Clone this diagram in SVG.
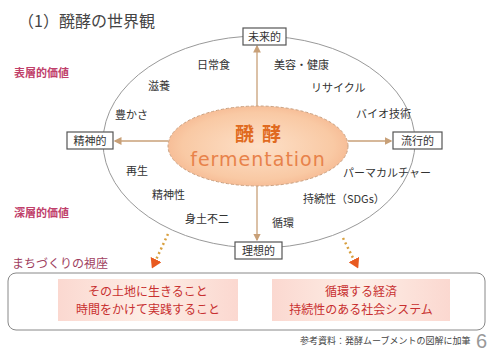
<svg xmlns="http://www.w3.org/2000/svg" width="492" height="358" viewBox="0 0 492 358">
<defs>
<style>
text{font-family:"Noto Sans CJK JP","Liberation Sans",sans-serif;}
.lbl{font-size:11px;fill:#333;}
.box{fill:#fff;stroke:#555;stroke-width:1.2;}
.bt{font-size:11px;fill:#333;text-anchor:middle;}
.pk{font-size:11px;fill:#c0406a;font-weight:bold;}
.con{stroke:#c8a078;stroke-width:1.3;fill:none;}
.dot{stroke:#d8a040;stroke-width:2.5;stroke-dasharray:2 3;fill:none;}
.rt{font-size:12px;fill:#c83030;text-anchor:middle;}
</style>
<radialGradient id="ig" cx="0.5" cy="0.5" r="0.6">
<stop offset="0" stop-color="#fde0c8"/>
<stop offset="0.7" stop-color="#f9c9a4"/>
<stop offset="1" stop-color="#f4b088"/>
</radialGradient>
<linearGradient id="pg" x1="0" y1="0" x2="1" y2="0">
<stop offset="0" stop-color="#fbd8d0"/>
<stop offset="0.5" stop-color="#fdeee6"/>
<stop offset="1" stop-color="#fbd8d0"/>
</linearGradient>
<marker id="ah" markerWidth="6" markerHeight="6" refX="5" refY="3" orient="auto">
<path d="M0,0 L6,3 L0,6 z" fill="#c8a078"/>
</marker>
<marker id="oh" markerUnits="userSpaceOnUse" markerWidth="10" markerHeight="12" refX="5" refY="6" orient="auto">
<path d="M0,0 L10,6 L0,12 z" fill="#e85a20"/>
</marker>
</defs>
<rect width="492" height="358" fill="#fff"/>
<text x="18" y="27" style="font-size:16px;fill:#444;">（1）醗酵の世界観</text>
<g id="outer"><ellipse cx="259" cy="142" rx="156" ry="106" fill="none" stroke="#999" stroke-width="1"/></g>
<g id="connectors">
<line class="con" x1="257" y1="106" x2="257" y2="46" marker-end="url(#ah)"/>
<line class="con" x1="168" y1="141" x2="115" y2="141" marker-end="url(#ah)"/>
<line class="con" x1="348" y1="141" x2="391" y2="141" marker-end="url(#ah)"/>
<line class="con" x1="257" y1="186" x2="257" y2="240" marker-end="url(#ah)"/>
<line class="dot" x1="168" y1="234" x2="154" y2="264" marker-end="url(#oh)"/>
<line class="dot" x1="343" y1="238" x2="356" y2="264" marker-end="url(#oh)"/>
</g>
<g id="center">
<ellipse cx="258" cy="146" rx="90" ry="40" fill="url(#ig)" stroke="#c9a080" stroke-width="1" stroke-dasharray="3 2"/>
<text x="262" y="141" text-anchor="middle" style="font-size:19px;fill:#e06a20;font-weight:bold;letter-spacing:8px;">醗酵</text>
<text x="258" y="166" text-anchor="middle" style="font-size:19px;fill:#e8824a;font-family:'DejaVu Sans','Liberation Sans',sans-serif;letter-spacing:1px;">fermentation</text>
</g>
<g id="top"><rect class="box" x="243" y="28" width="43" height="17"/><text class="bt" x="264.5" y="41">未来的</text></g>
<g id="left"><rect class="box" x="67" y="132" width="46" height="17"/><text class="bt" x="90" y="145">精神的</text></g>
<g id="right"><rect class="box" x="393" y="132" width="49" height="17"/><text class="bt" x="417.5" y="145">流行的</text></g>
<g id="bottom"><rect class="box" x="235" y="242" width="47" height="17"/><text class="bt" x="258.5" y="255">理想的</text></g>
<g id="labels">
<text class="lbl" x="197" y="69">日常食</text>
<text class="lbl" x="274" y="69">美容・健康</text>
<text class="lbl" x="148" y="90">滋養</text>
<text class="lbl" x="311" y="92">リサイクル</text>
<text class="lbl" x="115" y="119">豊かさ</text>
<text class="lbl" x="356" y="118">バイオ技術</text>
<text class="lbl" x="126" y="175">再生</text>
<text class="lbl" x="343" y="177">パーマカルチャー</text>
<text class="lbl" x="152" y="199">精神性</text>
<text class="lbl" x="303" y="203">持続性（SDGs）</text>
<text class="lbl" x="185" y="223">身土不二</text>
<text class="lbl" x="272" y="227">循環</text>
<text class="pk" x="14" y="77">表層的価値</text>
<text class="pk" x="14" y="217">深層的価値</text>
</g>
<text x="12" y="268" style="font-size:12px;fill:#a04060;">まちづくりの視座</text>
<g id="frame"><rect x="8" y="273" width="477" height="57" rx="8" fill="none" stroke="#888" stroke-width="1"/></g>
<g id="boxL"><rect x="58" y="279" width="180" height="42" fill="url(#pg)"/><text class="rt" x="148" y="296">その土地に生きること</text><text class="rt" x="148" y="314">時間をかけて実践すること</text></g>
<g id="boxR"><rect x="272" y="279" width="178" height="42" fill="url(#pg)"/><text class="rt" x="361" y="296">循環する経済</text><text class="rt" x="361" y="314">持続性のある社会システム</text></g>
<text x="300" y="344" style="font-size:9px;fill:#444;">参考資料：発酵ムーブメントの図解に加筆</text>
<text x="476" y="348" style="font-size:20px;fill:#999;font-family:'Liberation Sans',sans-serif;">6</text>
</svg>
